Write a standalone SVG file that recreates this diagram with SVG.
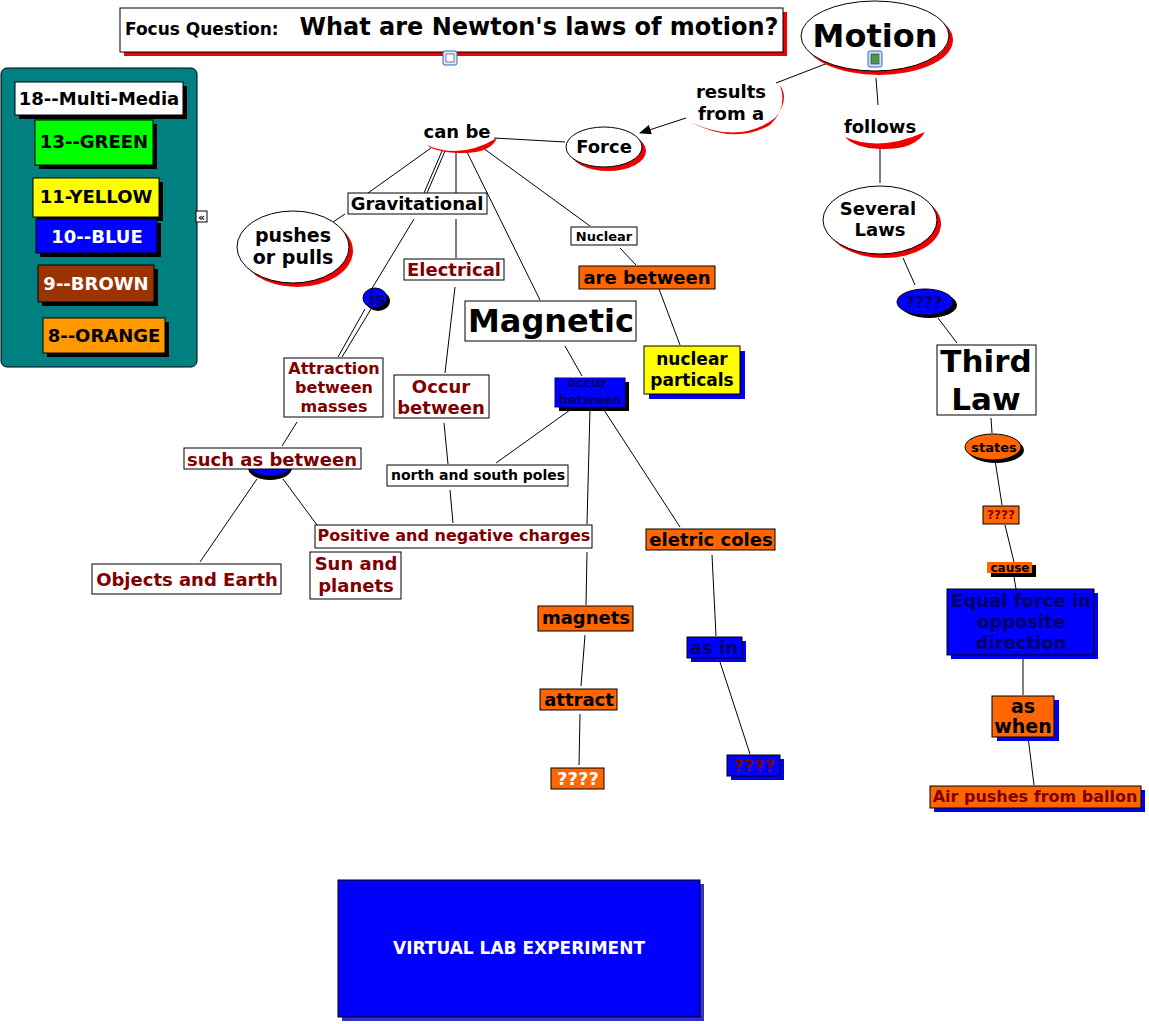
<svg xmlns="http://www.w3.org/2000/svg" width="1149" height="1024" viewBox="0 0 1149 1024">
<style>
text{font-family:"DejaVu Sans","Verdana",sans-serif;font-weight:bold;text-anchor:middle}
.w{fill:#fff;stroke:#000;stroke-width:1}
.o{fill:#ff6600;stroke:#000;stroke-width:1}
.b{fill:#0000ff;stroke:#000;stroke-width:1}
.dr{fill:#800000}
.k{fill:#000}
.ln{stroke:#000;stroke-width:1;fill:none}
.rs{fill:#ee0000}
.bs{fill:#0000ee}
.ks{fill:#000}
</style>
<defs>
<marker id="ar" markerWidth="12" markerHeight="10" refX="11" refY="5" orient="auto" markerUnits="userSpaceOnUse"><path d="M0,0 L12,5 L0,10 z" fill="#000"/></marker>
</defs>
<rect width="1149" height="1024" fill="#fff"/>

<g id="connectors" class="ln">
<line x1="828" y1="63" x2="776" y2="83"/>
<line x1="686" y1="118" x2="640" y2="133" marker-end="url(#ar)"/>
<line x1="565" y1="142" x2="494" y2="138"/>
<line x1="876" y1="78" x2="878" y2="105"/>
<line x1="880" y1="148" x2="880" y2="183"/>
<line x1="903" y1="258" x2="915" y2="285"/>
<line x1="938" y1="318" x2="957" y2="343"/>
<line x1="991" y1="418" x2="992" y2="433"/>
<line x1="995" y1="460" x2="1002" y2="505"/>
<line x1="1005" y1="525" x2="1014" y2="562"/>
<line x1="1014" y1="577" x2="1016" y2="589"/>
<line x1="1023" y1="655" x2="1023" y2="695"/>
<line x1="1028" y1="737" x2="1034" y2="785"/>
<line x1="431" y1="148" x2="368" y2="193"/>
<line x1="442" y1="151" x2="424" y2="193"/>
<line x1="445" y1="151" x2="427" y2="193"/>
<line x1="456" y1="152" x2="456" y2="193"/>
<line x1="466" y1="150" x2="540" y2="300"/>
<line x1="483" y1="148" x2="590" y2="226"/>
<line x1="456" y1="219" x2="456" y2="258"/>
<line x1="345" y1="214" x2="333" y2="222"/>
<line x1="414" y1="219" x2="371" y2="290"/>
<line x1="365" y1="309" x2="338" y2="357"/>
<line x1="371" y1="309" x2="342" y2="357"/>
<line x1="297" y1="422" x2="282" y2="446"/>
<line x1="257" y1="479" x2="200" y2="562"/>
<line x1="283" y1="479" x2="317" y2="525"/>
<line x1="455" y1="287" x2="445" y2="373"/>
<line x1="444" y1="423" x2="448" y2="464"/>
<line x1="450" y1="490" x2="453" y2="523"/>
<line x1="565" y1="346" x2="582" y2="376"/>
<line x1="570" y1="410" x2="496" y2="463"/>
<line x1="590" y1="409" x2="587" y2="524"/>
<line x1="587" y1="552" x2="586" y2="605"/>
<line x1="585" y1="635" x2="581" y2="686"/>
<line x1="580" y1="714" x2="579" y2="765"/>
<line x1="604" y1="410" x2="680" y2="527"/>
<line x1="712" y1="555" x2="716" y2="636"/>
<line x1="720" y1="662" x2="750" y2="754"/>
<line x1="620" y1="248" x2="636" y2="265"/>
<line x1="659" y1="289" x2="680" y2="345"/>
</g>

<g id="focus">
<rect x="124" y="12" width="663" height="44" class="rs"/>
<rect x="120" y="8" width="663" height="44" class="w"/>
<text x="125" y="35" font-size="17" class="k" style="text-anchor:start">Focus Question:</text>
<text x="539" y="35" font-size="24" class="k">What are Newton's laws of motion?</text>
<rect x="443" y="51" width="14" height="14" rx="2" fill="#dde8ff" stroke="#3366cc"/>
<rect x="446" y="54" width="8" height="8" fill="#fff" stroke="#333" stroke-width="0.6"/>
</g>

<g id="legend">
<rect x="1" y="68" width="196" height="299" rx="6" fill="#008080" stroke="#000"/>
<rect x="19" y="86" width="168" height="33" class="ks"/>
<rect x="15" y="82" width="168" height="33" class="w"/>
<text x="99" y="105" font-size="18" class="k">18--Multi-Media</text>
<rect x="39" y="124" width="118" height="45" class="ks"/>
<rect x="35" y="120" width="118" height="45" fill="#00ff00" stroke="#000"/>
<text x="94" y="148" font-size="18" class="k">13--GREEN</text>
<rect x="37" y="182" width="126" height="39" class="ks"/>
<rect x="33" y="178" width="126" height="39" fill="#ffff00" stroke="#000"/>
<text x="96" y="203" font-size="18" class="k">11-YELLOW</text>
<rect x="40" y="223" width="121" height="34" class="ks"/>
<rect x="36" y="219" width="121" height="34" fill="#0000ff" stroke="#000"/>
<text x="97" y="243" font-size="18" fill="#fff">10--BLUE</text>
<rect x="42" y="269" width="116" height="37" class="ks"/>
<rect x="38" y="265" width="116" height="37" fill="#993300" stroke="#000"/>
<text x="96" y="290" font-size="18" fill="#fff">9--BROWN</text>
<rect x="47" y="322" width="122" height="35" class="ks"/>
<rect x="43" y="318" width="122" height="35" fill="#ff9900" stroke="#000"/>
<text x="104" y="342" font-size="18" class="k">8--ORANGE</text>
<rect x="196" y="211" width="11" height="11" fill="#fff" stroke="#000"/>
<text x="201.5" y="221" font-size="11" class="k">«</text>
</g>

<g id="motion">
<ellipse cx="879" cy="40" rx="74" ry="35" class="rs"/>
<ellipse cx="875" cy="36" rx="74" ry="35" class="w"/>
<text x="875" y="47" font-size="32" class="k">Motion</text>
<rect x="868" y="51" width="14" height="16" rx="2" fill="#cfe0ff" stroke="#3366cc"/>
<rect x="871" y="54" width="8" height="10" fill="#4a9a4a" stroke="#333" stroke-width="0.6"/>
</g>

<g id="results">
<path d="M690,122 Q740,145 775,118 Q790,100 780,85 Q788,108 770,125 Q735,145 690,122 z" fill="#ee0000"/>
<text x="731" y="98" font-size="18" class="k">results</text>
<text x="731" y="120" font-size="18" class="k">from a</text>
</g>

<g id="force">
<ellipse cx="608" cy="151" rx="38" ry="20" class="rs"/>
<ellipse cx="604" cy="147" rx="38" ry="20" class="w"/>
<text x="604" y="153" font-size="18" class="k">Force</text>
</g>

<g id="follows">
<path d="M845,137 Q880,152 925,132 Q915,150 880,149 Q855,148 845,137 z" fill="#ee0000"/>
<text x="880" y="133" font-size="18" class="k">follows</text>
</g>

<g id="canbe">
<path d="M427,145 Q460,160 497,138 Q490,154 460,153 Q435,152 427,145 z" fill="#ee0000"/>
<text x="457" y="138" font-size="18" class="k">can be</text>
</g>

<g id="several">
<ellipse cx="884" cy="224" rx="57" ry="34" class="rs"/>
<ellipse cx="880" cy="220" rx="57" ry="34" class="w"/>
<text x="878" y="215" font-size="18" class="k">Several</text>
<text x="880" y="236" font-size="18" class="k">Laws</text>
</g>

<g id="q1">
<ellipse cx="929" cy="305" rx="28" ry="13" class="ks"/>
<ellipse cx="925" cy="302" rx="28" ry="13" class="b"/>
<text x="924" y="308" font-size="16" fill="#000066">????</text>
</g>

<g id="third">
<rect x="937" y="345" width="99" height="70" class="w"/>
<text x="986" y="372" font-size="31" class="k">Third</text>
<text x="986" y="410" font-size="31" class="k">Law</text>
</g>

<g id="states">
<ellipse cx="996" cy="450" rx="28" ry="13" class="ks"/>
<ellipse cx="993" cy="447" rx="28" ry="13" class="o"/>
<text x="994" y="452" font-size="13" class="k">states</text>
</g>

<g id="q2">
<rect x="983" y="506" width="36" height="18" class="o"/>
<text x="1001" y="519" font-size="12" class="dr">????</text>
</g>

<g id="cause">
<rect x="991" y="565" width="45" height="12" class="ks"/>
<rect x="987" y="562" width="45" height="11" fill="#ff6600"/>
<text x="1010" y="572" font-size="12" class="k">cause</text>
</g>

<g id="equal">
<rect x="951" y="593" width="147" height="66" class="bs"/>
<rect x="947" y="589" width="147" height="66" class="b"/>
<text x="1021" y="607" font-size="18" fill="#000066">Equal force in</text>
<text x="1021" y="628" font-size="18" fill="#000066">opposite</text>
<text x="1021" y="649" font-size="18" fill="#000066">direction</text>
</g>

<g id="aswhen">
<rect x="997" y="700" width="62" height="41" class="bs"/>
<rect x="992" y="696" width="62" height="41" class="o"/>
<text x="1023" y="713" font-size="19" class="k">as</text>
<text x="1023" y="733" font-size="19" class="k">when</text>
</g>

<g id="air">
<rect x="934" y="790" width="211" height="22" class="bs"/>
<rect x="930" y="786" width="211" height="22" class="o"/>
<text x="1035" y="802" font-size="16" class="dr">Air pushes from ballon</text>
</g>

<g id="gravitational">
<rect x="348" y="193" width="139" height="21" class="w"/>
<text x="417" y="210" font-size="18" class="k">Gravitational</text>
</g>

<g id="pushes">
<ellipse cx="297" cy="251" rx="56" ry="36" class="rs"/>
<ellipse cx="293" cy="247" rx="56" ry="36" class="w"/>
<text x="293" y="242" font-size="19" class="k">pushes</text>
<text x="293" y="264" font-size="19" class="k">or pulls</text>
</g>

<g id="electrical">
<rect x="404" y="259" width="100" height="21" class="w"/>
<text x="454" y="276" font-size="18" class="dr">Electrical</text>
</g>

<g id="nuclear">
<rect x="571" y="227" width="66" height="18" class="w"/>
<text x="604" y="241" font-size="13" class="k">Nuclear</text>
</g>

<g id="arebetween">
<rect x="579" y="266" width="136" height="23" class="o"/>
<text x="647" y="284" font-size="18" class="k">are between</text>
</g>

<g id="magnetic">
<rect x="465" y="301" width="171" height="40" class="w"/>
<text x="551" y="332" font-size="32" class="k">Magnetic</text>
</g>

<g id="is">
<ellipse cx="378" cy="301" rx="12" ry="10" class="ks"/>
<ellipse cx="375" cy="298" rx="12" ry="10" class="b"/>
<text x="377" y="305" font-size="17" fill="#000066">is</text>
</g>

<g id="attraction">
<rect x="284" y="358" width="99" height="59" class="w"/>
<text x="334" y="374" font-size="16" class="dr">Attraction</text>
<text x="334" y="393" font-size="16" class="dr">between</text>
<text x="334" y="412" font-size="16" class="dr">masses</text>
</g>

<g id="occur">
<rect x="394" y="375" width="95" height="43" class="w"/>
<text x="441" y="393" font-size="18" class="dr">Occur</text>
<text x="441" y="414" font-size="18" class="dr">between</text>
</g>

<g id="occur2">
<rect x="559" y="382" width="70" height="29" class="ks"/>
<rect x="555" y="378" width="70" height="29" fill="#0000ff" stroke="#0000aa"/>
<text x="587" y="387" font-size="13" fill="#000066">occur</text>
<text x="590" y="404" font-size="13" fill="#000066">between</text>
</g>

<g id="particals">
<rect x="649" y="351" width="96" height="48" class="bs"/>
<rect x="644" y="346" width="96" height="48" fill="#ffff00" stroke="#000"/>
<text x="692" y="365" font-size="17" class="k">nuclear</text>
<text x="692" y="386" font-size="17" class="k">particals</text>
</g>

<g id="suchas">
<ellipse cx="270" cy="468" rx="22" ry="12" class="ks"/>
<ellipse cx="270" cy="465" rx="22" ry="11" class="b"/>
<rect x="184" y="448" width="177" height="21" class="w"/>
<text x="272" y="466" font-size="18" class="dr">such as between</text>
</g>

<g id="poles">
<rect x="387" y="465" width="181" height="21" class="w"/>
<text x="478" y="480" font-size="14" class="k">north and south poles</text>
</g>

<g id="charges">
<rect x="315" y="525" width="277" height="23" class="w"/>
<text x="454" y="541" font-size="16" class="dr">Positive and negative charges</text>
</g>

<g id="objects">
<rect x="92" y="564" width="189" height="30" class="w"/>
<text x="187" y="586" font-size="18" class="dr">Objects and Earth</text>
</g>

<g id="sun">
<rect x="310" y="552" width="91" height="47" class="w"/>
<text x="356" y="570" font-size="18" class="dr">Sun and</text>
<text x="356" y="592" font-size="18" class="dr">planets</text>
</g>

<g id="coles">
<rect x="646" y="529" width="129" height="21" class="o"/>
<text x="711" y="546" font-size="18" class="k">eletric coles</text>
</g>

<g id="magnets">
<rect x="538" y="606" width="95" height="25" class="o"/>
<text x="586" y="624" font-size="18" class="k">magnets</text>
</g>

<g id="attract">
<rect x="540" y="689" width="77" height="21" class="o"/>
<text x="579" y="706" font-size="18" class="k">attract</text>
</g>

<g id="q3">
<rect x="551" y="768" width="53" height="21" class="o"/>
<text x="578" y="785" font-size="18" fill="#fff">????</text>
</g>

<g id="asin">
<rect x="691" y="641" width="55" height="21" class="bs"/>
<rect x="687" y="637" width="55" height="21" class="b"/>
<text x="714" y="654" font-size="18" fill="#000066">as in</text>
</g>

<g id="q4">
<rect x="731" y="759" width="53" height="21" class="bs"/>
<rect x="727" y="755" width="53" height="21" class="b"/>
<text x="754" y="772" font-size="18" fill="#800000">????</text>
</g>

<g id="virtual">
<rect x="342" y="884" width="362" height="137" fill="#3333cc"/>
<rect x="338" y="880" width="362" height="137" class="b"/>
<text x="519" y="954" font-size="17" fill="#fff">VIRTUAL LAB EXPERIMENT</text>
</g>
</svg>
